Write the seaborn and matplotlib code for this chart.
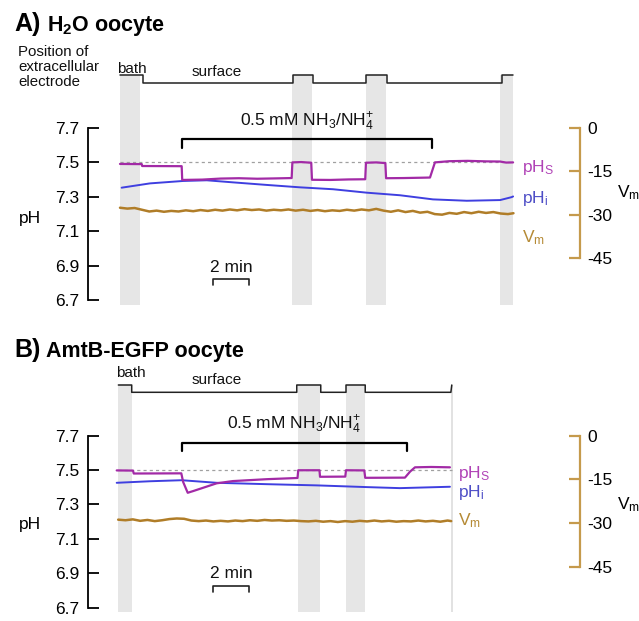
import matplotlib
matplotlib.use("Agg")
import matplotlib.pyplot as plt
import seaborn as sns

# ---------------- data (time in minutes, pH units, mV) ----------------
# Panel A : H2O oocyte
elec_A_t = [0.0, 1.24, 1.24, 9.47, 9.47, 10.56, 10.56, 13.43, 13.43, 14.57, 14.57, 20.86, 20.86, 21.48]
elec_A_pos = [1, 1, 0, 0, 1, 1, 0, 0, 1, 1, 0, 0, 1, 1]
bands_A_start = [0.0, 9.40, 13.44, 20.77]
bands_A_end = [1.12, 10.49, 14.54, 21.48]
nh3_A = [3.37, 17.07]

pHs_A_t = [0.0, 1.19, 1.21, 3.37, 3.40, 4.5, 5.5, 6.5, 7.5, 8.5, 9.38, 9.42, 9.9, 10.45, 10.49,
           11.5, 12.5, 13.40, 13.44, 14.0, 14.50, 14.54, 15.5, 16.5, 16.94, 17.21, 18.0, 19.0,
           20.0, 20.77, 21.1, 21.48]
pHs_A = [7.491, 7.490, 7.479, 7.478, 7.398, 7.400, 7.406, 7.408, 7.405, 7.407, 7.409, 7.500,
         7.502, 7.498, 7.399, 7.398, 7.401, 7.402, 7.498, 7.500, 7.496, 7.408, 7.409, 7.411,
         7.412, 7.500, 7.507, 7.509, 7.506, 7.505, 7.499, 7.500]

pHi_A_t = [0.09, 1.64, 3.44, 4.74, 6.17, 8.02, 9.84, 11.64, 13.48, 15.30, 17.10, 18.95, 20.77, 21.40, 21.48]
pHi_A = [7.353, 7.378, 7.392, 7.396, 7.384, 7.369, 7.355, 7.344, 7.324, 7.309, 7.285, 7.277, 7.281, 7.298, 7.302]

Vm_A_t = [0.0, 0.4, 0.8, 1.2, 1.6, 2.0, 2.4, 2.8, 3.2, 3.6, 4.0, 4.4, 4.8, 5.2, 5.6, 6.0, 6.4,
          6.8, 7.2, 7.6, 8.0, 8.4, 8.8, 9.2, 9.6, 10.0, 10.4, 10.8, 11.2, 11.6, 12.0, 12.4, 12.8,
          13.2, 13.6, 14.0, 14.4, 14.8, 15.2, 15.6, 16.0, 16.4, 16.8, 17.2, 17.6, 18.0, 18.4,
          18.8, 19.2, 19.6, 20.0, 20.4, 20.8, 21.2, 21.5]
Vm_A = [-27.6, -27.9, -27.7, -28.3, -28.9, -28.6, -29.0, -28.7, -28.9, -28.5, -28.8, -28.4,
        -28.7, -28.3, -28.6, -28.2, -28.5, -28.1, -28.4, -28.2, -28.6, -28.3, -28.5, -28.2,
        -28.6, -28.3, -28.7, -28.4, -28.8, -28.5, -28.7, -28.3, -28.6, -28.2, -28.5, -28.0,
        -28.6, -29.0, -28.5, -29.1, -28.7, -29.3, -29.0, -29.8, -30.0, -29.4, -29.7, -29.1,
        -29.5, -29.0, -29.4, -29.1, -29.6, -29.8, -29.5]

# Panel B : AmtB-EGFP oocyte
elec_B_t = [-0.09, 0.64, 0.64, 9.66, 9.66, 10.97, 10.97, 12.35, 12.35, 13.40, 13.40, 18.08, 18.13]
elec_B_pos = [1, 1, 0, 0, 1, 1, 0, 0, 1, 1, 0, 0, 1]
bands_B_start = [-0.09, 9.74, 12.35]
bands_B_end = [0.64, 10.93, 13.40]
nh3_B = [3.37, 15.67]
end_B = 18.13

pHs_B_t = [-0.18, 0.71, 0.75, 3.35, 3.45, 3.70, 4.0, 4.37, 5.28, 6.17, 8.02, 9.70, 9.74, 10.90,
           10.93, 12.31, 12.35, 13.35, 13.40, 15.57, 15.85, 16.12, 17.0, 18.03]
pHs_B = [7.497, 7.496, 7.479, 7.480, 7.430, 7.367, 7.377, 7.390, 7.422, 7.435, 7.446, 7.453,
         7.498, 7.498, 7.460, 7.461, 7.498, 7.497, 7.454, 7.455, 7.490, 7.515, 7.517, 7.515]

pHi_B_t = [-0.18, 1.64, 3.37, 5.28, 8.02, 10.75, 13.48, 15.30, 18.03]
pHi_B = [7.425, 7.434, 7.440, 7.425, 7.417, 7.410, 7.400, 7.394, 7.402]

Vm_B_t = [-0.1, 0.3, 0.7, 1.1, 1.5, 1.9, 2.3, 2.7, 3.1, 3.5, 3.9, 4.3, 4.7, 5.1, 5.5, 5.9, 6.3,
          6.7, 7.1, 7.5, 7.9, 8.3, 8.7, 9.1, 9.5, 9.9, 10.3, 10.7, 11.1, 11.5, 11.9, 12.3, 12.7,
          13.1, 13.5, 13.9, 14.3, 14.7, 15.1, 15.5, 15.9, 16.3, 16.7, 17.1, 17.5, 17.9, 18.1]
Vm_B = [-28.8, -29.0, -28.7, -29.2, -28.9, -29.3, -29.0, -28.6, -28.4, -28.5, -29.1, -29.3,
        -29.1, -29.4, -29.2, -29.4, -29.1, -29.3, -29.0, -29.2, -28.9, -29.1, -29.0, -29.2,
        -29.1, -29.3, -29.4, -29.2, -29.5, -29.3, -29.6, -29.3, -29.5, -29.2, -29.4, -29.1,
        -29.4, -29.2, -29.5, -29.3, -29.4, -29.1, -29.4, -29.2, -29.5, -29.1, -29.3]

ph_ticks = [6.7, 6.9, 7.1, 7.3, 7.5, 7.7]
ph_ticklabels = ["6.7", "6.9", "7.1", "7.3", "7.5", "7.7"]
vm_ticks = [-45, -30, -15, 0]
vm_ticklabels = ["-45", "-30", "-15", "0"]
scalebar_min = 2

# ---------------- style ----------------
sns.set_theme(style="white")
plt.rcParams["font.family"] = ["Liberation Sans", "DejaVu Sans"]
plt.rcParams["mathtext.fontset"] = "custom"
plt.rcParams["mathtext.rm"] = "Liberation Sans"
plt.rcParams["mathtext.it"] = "Liberation Sans:italic"
plt.rcParams["mathtext.bf"] = "Liberation Sans:bold"
plt.rcParams["mathtext.default"] = "regular"
plt.rcParams["axes.unicode_minus"] = False
plt.rcParams["text.color"] = "black"
plt.rcParams["ytick.color"] = "black"

C_S = "#a22aa6"
C_S_LAB = "#b042b6"
C_I = "#3f3fe0"
C_I_LAB = "#4d4dc6"
C_V = "#b07d28"
C_V_LAB = "#b58a35"
C_VAX = "#c59a4c"
C_BAND = "#e6e6e6"

W, H = 639, 621
fig = plt.figure(figsize=(W / 100, H / 100), dpi=100)


def rect(x0, y0, x1, y1):
    return [x0 / W, 1 - y1 / H, (x1 - x0) / W, (y1 - y0) / H]


X0PX, PXMIN = 120.0, 18.3
XL = ((88 - X0PX) / PXMIN, (580 - X0PX) / PXMIN)
PPU = 172.0


def line(ax, t, v, color, lw):
    sns.lineplot(x=t, y=v, ax=ax, color=color, lw=lw, estimator=None, sort=False,
                 legend=False)


def panel(top_px, ph77_px, bot_px, vm0_px, vm_ppm, d_el,
          elec_t, elec_pos, b_start, b_end, nh3, dash_range,
          s_t, s_v, i_t, i_v, v_t, v_v, lab_t, lab_y, extra_line=None):
    ax = fig.add_axes(rect(88, top_px, 580, bot_px))
    ax.set_xlim(*XL)
    ax.set_ylim(6.7 - (bot_px - (ph77_px + PPU)) / PPU, 7.7 + (ph77_px - top_px) / PPU)
    ax.patch.set_visible(False)
    for s0, s1 in zip(b_start, b_end):
        ax.axvspan(s0, s1, color=C_BAND, lw=0, zorder=0)
    if extra_line is not None:
        ax.axvline(extra_line, color="#dddddd", lw=1.2, zorder=0)
    ax.hlines(7.5, dash_range[0], dash_range[1], colors="#a0a0a0", lw=0.9,
              linestyles=(0, (2.5, 2.5)), zorder=1)
    line(ax, i_t, i_v, C_I, 1.4)
    line(ax, s_t, s_v, C_S, 1.6)
    for k in ["top", "right", "bottom"]:
        ax.spines[k].set_visible(False)
    ax.spines["left"].set_bounds(6.7, 7.7)
    ax.spines["left"].set_color("black")
    ax.spines["left"].set_linewidth(1.3)
    ax.set_xticks([])
    ax.set_yticks(ph_ticks)
    ax.set_yticklabels(ph_ticklabels)
    ax.tick_params(axis="y", direction="in", length=8, width=1.3, color="black",
                   labelsize=12.5, pad=6, left=True, labelcolor="black")
    ax.set_xlabel("")
    ax.set_ylabel("")

    # NH3 bracket
    yb = 7.7 - (nh3[2] - ph77_px) / PPU
    yb2 = yb - 8.5 / PPU
    ax.plot([nh3[0], nh3[0], nh3[1], nh3[1]], [yb2, yb, yb, yb2], color="black", lw=1.6,
            clip_on=False)
    ax.text((nh3[0] + nh3[1]) / 2 + nh3[3], yb + 17.5 / PPU,
            r"0.5 mM NH$_\mathregular{3}$/NH$_\mathregular{4}^\mathregular{+}$",
            ha="center", va="center", fontsize=12.5, color="#111111")

    # 2 min scale bar
    sb0 = (212.7 - X0PX) / PXMIN
    ysb = 7.7 - (nh3[4] - ph77_px) / PPU
    ax.plot([sb0, sb0, sb0 + scalebar_min, sb0 + scalebar_min],
            [ysb - 6 / PPU, ysb, ysb, ysb - 6 / PPU], color="#222222", lw=1.2)
    ax.text(sb0 + scalebar_min / 2, ysb + 11.5 / PPU, "2 min", ha="center", va="center",
            fontsize=12.5, color="#111111")

    # Vm axis
    ax2 = ax.twinx()
    ax2.set_xlim(*XL)
    ax2.set_ylim(-(bot_px - vm0_px) / vm_ppm, (vm0_px - top_px) / vm_ppm)
    line(ax2, v_t, v_v, C_V, 1.8)
    for k in ["top", "left", "bottom"]:
        ax2.spines[k].set_visible(False)
    ax2.spines["right"].set_bounds(-45, 0)
    ax2.spines["right"].set_color(C_VAX)
    ax2.spines["right"].set_linewidth(1.6)
    ax2.set_yticks(vm_ticks)
    ax2.set_yticklabels(vm_ticklabels)
    ax2.tick_params(axis="y", direction="in", length=8, width=1.6, color=C_VAX,
                    labelsize=12.5, pad=5.5, right=True, labelcolor="black")
    ax2.set_xticks([])
    ax2.set_ylabel("")
    ax2.set_xlabel("")

    # trace labels
    ax.text(lab_t, lab_y[0], r"pH$_\mathregular{S}$", color=C_S_LAB, fontsize=12.5,
            va="baseline", ha="left", clip_on=False)
    ax.text(lab_t, lab_y[1], r"pH$_\mathregular{i}$", color=C_I_LAB, fontsize=12.5,
            va="baseline", ha="left", clip_on=False)
    ax.text(lab_t, lab_y[2], r"V$_\mathregular{m}$", color=C_V_LAB, fontsize=12.5,
            va="baseline", ha="left", clip_on=False)

    # electrode position trace
    ax_e = fig.add_axes(rect(88, top_px - 12, 580, top_px + 20))
    ax_e.set_xlim(*XL)
    ax_e.set_ylim(-(20 - d_el) / d_el, 1 + 12 / d_el)
    line(ax_e, elec_t, elec_pos, "#222222", 1.1)
    ax_e.axis("off")
    return ax, ax2


# Panel A
panel(75, 128, 305, 128, 130 / 45, 8.3,
      elec_A_t, elec_A_pos, bands_A_start, bands_A_end,
      [nh3_A[0], nh3_A[1], 139.5, 0.0, 279.5], (0.0, 21.48),
      pHs_A_t, pHs_A, pHi_A_t, pHi_A, Vm_A_t, Vm_A,
      (522 - X0PX) / PXMIN, [7.444, 7.262, 7.037])

# Panel B
panel(385, 435.5, 612, 435.5, 131.5 / 45, 7.3,
      elec_B_t, elec_B_pos, bands_B_start, bands_B_end,
      [nh3_B[0], nh3_B[1], 442.5, 0.0, 585.5], (-0.09, end_B),
      pHs_B_t, pHs_B, pHi_B_t, pHi_B, Vm_B_t, Vm_B,
      (458 - X0PX) / PXMIN, [7.451, 7.344, 7.180], extra_line=end_B)


def ftext(x, y, s, **kw):
    kw.setdefault("color", "black")
    fig.text(x / W, 1 - y / H, s, **kw)


# titles
ftext(14, 31, "A)", fontsize=18, fontweight="bold", va="baseline")
ftext(47, 31, r"H$_\mathregular{2}$O oocyte", fontsize=15.5, fontweight="bold", va="baseline")
ftext(14, 357, "B)", fontsize=18, fontweight="bold", va="baseline")
ftext(46, 357, "AmtB-EGFP oocyte", fontsize=15.5, fontweight="bold", va="baseline")

# electrode position labels
ftext(18, 52, "Position of", fontsize=10.8, va="center", color="#111111")
ftext(18, 67, "extracellular", fontsize=10.8, va="center", color="#111111")
ftext(18, 82, "electrode", fontsize=10.8, va="center", color="#111111")
ftext(132, 69, "bath", fontsize=11, ha="center", va="center", color="#111111")
ftext(217, 72, "surface", fontsize=11, ha="center", va="center", color="#111111")
ftext(131, 373, "bath", fontsize=11, ha="center", va="center", color="#111111")
ftext(217, 380, "surface", fontsize=11, ha="center", va="center", color="#111111")

# axis titles
ftext(30, 218, "pH", fontsize=12.5, ha="center", va="center")
ftext(30, 525, "pH", fontsize=12.5, ha="center", va="center")
ftext(617, 193, r"V$_\mathregular{m}$", fontsize=12.5, ha="left", va="center")
ftext(617, 505, r"V$_\mathregular{m}$", fontsize=12.5, ha="left", va="center")

fig.savefig("out.png", dpi=100)
